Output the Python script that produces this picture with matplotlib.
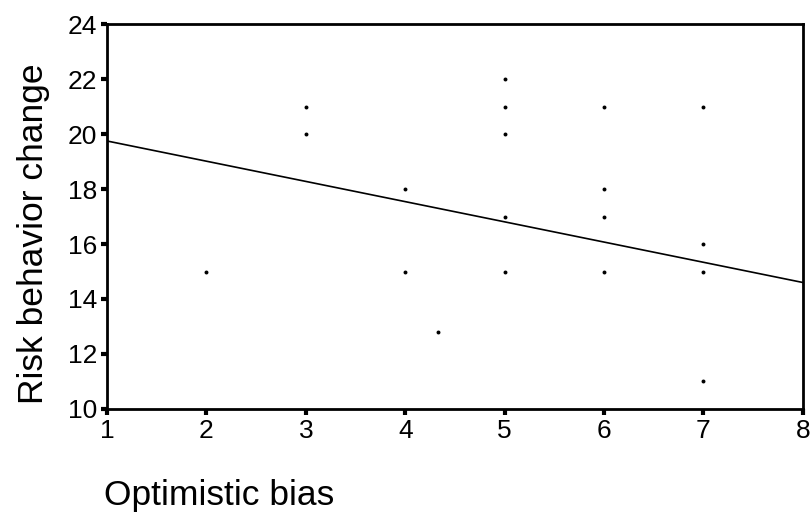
import matplotlib
matplotlib.use("Agg")
import matplotlib.pyplot as plt

# Scatter data
bias = [2, 3, 3, 4, 4, 4.33, 5, 5, 5, 5, 5, 6, 6, 6, 6, 7, 7, 7, 7]
change = [15, 21, 20, 18, 15, 12.8, 22, 21, 20, 17, 15, 21, 18, 17, 15, 21, 16, 15, 11]

# Fitted line end points
line_x = [1, 8]
line_y = [19.75, 14.6]

x_ticks = [1, 2, 3, 4, 5, 6, 7, 8]
y_ticks = [10, 12, 14, 16, 18, 20, 22, 24]

plt.rcParams['font.family'] = ['Liberation Sans', 'DejaVu Sans']

fig = plt.figure(figsize=(8.11, 5.15), dpi=100)
ax = fig.add_axes([0.132, 0.206, 0.858, 0.747])

ax.plot(line_x, line_y, color="black", linewidth=1.2)
ax.scatter(bias, change, s=8, color="black", marker="o", linewidths=0)

ax.set_xlim(1, 8)
ax.set_ylim(10, 24)
ax.set_xticks(x_ticks)
ax.set_yticks(y_ticks)
ax.tick_params(direction="out", length=4, width=3, labelsize=19, pad=3)
for s in ax.spines.values():
    s.set_linewidth(2)

ax.set_ylabel("Risk behavior change", fontsize=25.5)
ax.yaxis.set_label_coords(-0.082, 0.455)
fig.text(0.128, 0.037, "Optimistic bias", fontsize=25.5, ha="left", va="center")

fig.savefig("out.png", dpi=100)
